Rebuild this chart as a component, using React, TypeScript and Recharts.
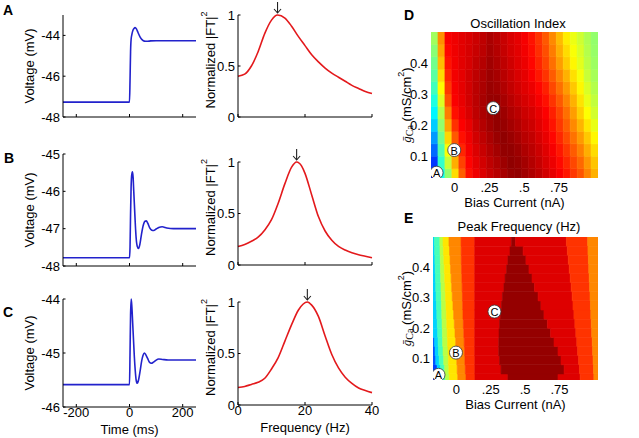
import React from "react";
import {
  LineChart,
  Line,
  XAxis,
  YAxis,
  ScatterChart,
  Scatter,
  ComposedChart,
  ReferenceArea,
  ReferenceDot,
} from "recharts";

const FONT = "'Liberation Sans', Arial, Helvetica, sans-serif";
const SERIF = "'Liberation Serif', 'DejaVu Serif', 'Times New Roman', serif";
const BLUE = "#2222cc";
const RED = "#e3191c";
const TICK_STYLE = { fontSize: 13, fill: "#000", fontFamily: FONT };

// ── step responses (ms, mV) ───────────────────────────────────────────────────
const timeA = [-250, 0, 2, 4, 6, 9, 13, 17, 21, 26, 32, 40, 48, 56, 65, 80, 100, 250];
const voltA = [-47.27, -47.27, -46.2, -44.8, -44.2, -43.95, -43.75, -43.66, -43.62, -43.68, -43.86, -44.08, -44.22, -44.28, -44.29, -44.27, -44.26, -44.26];

const timeB = [-250, 0, 2, 4, 6, 8.5, 11, 13.5, 16, 19, 22, 25, 29, 34, 39, 45, 52, 58, 63, 69, 76, 84, 91, 100, 110, 123, 140, 165, 250];
const voltB = [-47.78, -47.78, -47.5, -46.6, -45.9, -45.55, -45.48, -45.62, -46.0, -46.45, -46.9, -47.25, -47.47, -47.53, -47.42, -47.15, -46.9, -46.8, -46.79, -46.86, -46.98, -47.04, -47.05, -47.01, -46.97, -46.95, -46.98, -47.0, -47.0];

const timeC = [-250, 0, 2, 4, 6.5, 9, 12, 15, 18, 21.5, 25, 29, 34, 40, 46, 51, 56, 61, 68, 75, 82, 90, 98, 110, 125, 145, 250];
const voltC = [-45.585, -45.585, -45.0, -44.3, -44.0, -44.15, -44.45, -44.75, -45.05, -45.32, -45.5, -45.56, -45.5, -45.33, -45.14, -45.04, -45.0, -45.03, -45.1, -45.17, -45.19, -45.17, -45.14, -45.11, -45.12, -45.13, -45.13];

// ── normalized power spectra ──────────────────────────────────────────────────
const freqA = [0, 2, 4, 6, 8, 10, 11.8, 14, 16, 18, 20, 22, 24, 26, 28, 30, 32, 34, 36, 38, 40];
const powerA = [0.4, 0.42, 0.5, 0.64, 0.82, 0.95, 1.0, 0.97, 0.89, 0.79, 0.7, 0.61, 0.54, 0.48, 0.43, 0.39, 0.35, 0.31, 0.28, 0.25, 0.23];

const freqB = [0, 2, 4, 6, 8, 10, 12, 14, 16, 17.5, 19, 20, 22, 24, 26, 28, 30, 32, 34, 36, 38, 40];
const powerB = [0.18, 0.2, 0.23, 0.27, 0.34, 0.44, 0.6, 0.79, 0.95, 1.0, 0.96, 0.89, 0.68, 0.47, 0.33, 0.24, 0.18, 0.145, 0.12, 0.1, 0.085, 0.07];

const freqC = [0, 2, 4, 6, 8, 10, 12, 14, 16, 18, 20.7, 22, 24, 26, 28, 30, 32, 34, 36, 38, 40];
const powerC = [0.17, 0.18, 0.2, 0.22, 0.26, 0.35, 0.46, 0.62, 0.78, 0.92, 1.0, 0.97, 0.86, 0.67, 0.49, 0.36, 0.27, 0.21, 0.165, 0.14, 0.12];

const peakFreq = [11.8, 17.5, 20.7];

// ── parameter maps ────────────────────────────────────────────────────────────
const BIAS_MIN = -0.17;
const BIAS_MAX = 1.03;
const G_MIN = 0.03;
const G_MAX = 0.5;
const biasTicks = [0, 0.25, 0.5, 0.75];
const gTicks = [0.1, 0.2, 0.3, 0.4];

// oscillation index: column centres (nA) x row centres (mS/cm2)
const oscBias = [-0.145, -0.095, -0.045, 0.005, 0.055, 0.105, 0.155, 0.205, 0.255, 0.305, 0.355, 0.405, 0.455, 0.505, 0.555, 0.605, 0.655, 0.705, 0.755, 0.805, 0.855, 0.905, 0.955, 1.005];
const oscG = [0.04, 0.08, 0.12, 0.16, 0.2, 0.24, 0.28, 0.32, 0.36, 0.4, 0.44, 0.48];
const oscIndex = [
  [0.95, 1.75, 2.15, 2.58, 2.96, 3.2, 3.29, 3.35, 3.41, 3.46, 3.51, 3.56, 3.57, 3.53, 3.49, 3.44, 3.38, 3.32, 3.26, 3.18, 3.08, 2.99, 2.85, 2.71],
  [1.1, 1.85, 2.3, 2.72, 3.05, 3.24, 3.32, 3.38, 3.44, 3.49, 3.54, 3.58, 3.56, 3.52, 3.47, 3.42, 3.36, 3.3, 3.22, 3.13, 3.03, 2.93, 2.79, 2.65],
  [1.25, 1.95, 2.45, 2.85, 3.13, 3.27, 3.35, 3.41, 3.47, 3.52, 3.57, 3.57, 3.54, 3.49, 3.45, 3.4, 3.34, 3.27, 3.18, 3.08, 2.97, 2.86, 2.72, 2.58],
  [1.4, 2.05, 2.6, 2.98, 3.2, 3.29, 3.38, 3.44, 3.5, 3.55, 3.58, 3.55, 3.51, 3.46, 3.43, 3.37, 3.31, 3.23, 3.13, 3.02, 2.9, 2.78, 2.64, 2.5],
  [1.55, 2.15, 2.75, 3.1, 3.25, 3.31, 3.41, 3.47, 3.53, 3.57, 3.56, 3.52, 3.48, 3.43, 3.4, 3.34, 3.28, 3.19, 3.08, 2.96, 2.83, 2.7, 2.55, 2.41],
  [1.68, 2.25, 2.87, 3.2, 3.29, 3.36, 3.44, 3.5, 3.55, 3.58, 3.54, 3.49, 3.45, 3.4, 3.37, 3.31, 3.25, 3.15, 3.04, 2.91, 2.77, 2.62, 2.47, 2.34],
  [1.8, 2.37, 3.0, 3.26, 3.31, 3.38, 3.45, 3.51, 3.56, 3.56, 3.51, 3.46, 3.41, 3.37, 3.33, 3.27, 3.2, 3.09, 2.98, 2.85, 2.71, 2.56, 2.41, 2.29],
  [1.9, 2.48, 3.08, 3.27, 3.32, 3.38, 3.45, 3.5, 3.55, 3.53, 3.48, 3.43, 3.38, 3.34, 3.3, 3.23, 3.15, 3.03, 2.91, 2.78, 2.64, 2.5, 2.36, 2.25],
  [1.98, 2.58, 3.14, 3.28, 3.32, 3.38, 3.44, 3.49, 3.54, 3.51, 3.46, 3.41, 3.36, 3.32, 3.26, 3.18, 3.09, 2.97, 2.84, 2.71, 2.57, 2.45, 2.31, 2.21],
  [2.05, 2.67, 3.19, 3.28, 3.33, 3.37, 3.43, 3.47, 3.53, 3.49, 3.44, 3.39, 3.34, 3.3, 3.23, 3.14, 3.04, 2.91, 2.77, 2.63, 2.5, 2.39, 2.27, 2.18],
  [2.12, 2.75, 3.23, 3.29, 3.33, 3.37, 3.41, 3.45, 3.51, 3.47, 3.42, 3.37, 3.33, 3.28, 3.21, 3.11, 3.01, 2.87, 2.72, 2.58, 2.46, 2.36, 2.25, 2.16],
  [2.19, 2.81, 3.26, 3.29, 3.33, 3.36, 3.4, 3.44, 3.5, 3.46, 3.41, 3.36, 3.32, 3.27, 3.19, 3.09, 2.98, 2.83, 2.68, 2.53, 2.42, 2.33, 2.23, 2.15],
];
const oscRange = [0.55, 3.63];
const oscTicks = [1, 2, 3];

// peak frequency (Hz): contour bands per row, [start bias, value]
const peakG = [0.035, 0.065, 0.095, 0.125, 0.155, 0.185, 0.215, 0.245, 0.275, 0.305, 0.335, 0.365, 0.395, 0.425, 0.455, 0.485];
const peakBands = [
  [[-0.17, 12.9], [-0.15, 13.8], [-0.13, 15.0], [-0.11, 16.1], [-0.08, 17.2], [-0.05, 18.1], [0.01, 19.0], [0.07, 19.8], [0.135, 20.6], [0.375, 21.3], [0.739, 20.6], [0.9, 19.8], [1.0, 19.0]],
  [[-0.17, 13.6], [-0.14, 15.0], [-0.115, 16.1], [-0.085, 17.2], [-0.055, 18.1], [0.006, 19.0], [0.065, 19.8], [0.134, 20.6], [0.325, 21.3], [0.783, 20.6], [0.895, 19.8], [0.997, 19.0]],
  [[-0.17, 13.8], [-0.15, 15.0], [-0.125, 16.1], [-0.092, 17.2], [-0.058, 18.1], [0.003, 19.0], [0.062, 19.8], [0.134, 20.6], [0.314, 21.3], [0.761, 20.6], [0.889, 19.8], [0.994, 19.0]],
  [[-0.17, 13.8], [-0.155, 15.0], [-0.13, 16.1], [-0.097, 17.2], [-0.061, 18.1], [0.0, 19.0], [0.06, 19.8], [0.133, 20.6], [0.308, 21.3], [0.739, 20.6], [0.882, 19.8], [0.991, 19.0]],
  [[-0.17, 14.0], [-0.158, 15.0], [-0.133, 16.1], [-0.1, 17.2], [-0.064, 18.1], [-0.005, 19.0], [0.057, 19.8], [0.133, 20.6], [0.308, 21.3], [0.71, 20.6], [0.876, 19.8], [0.988, 19.0]],
  [[-0.17, 15.0], [-0.136, 16.1], [-0.102, 17.2], [-0.067, 18.1], [-0.01, 19.0], [0.054, 19.8], [0.133, 20.6], [0.31, 21.3], [0.685, 20.6], [0.869, 19.8], [0.984, 19.0]],
  [[-0.17, 15.0], [-0.139, 16.1], [-0.104, 17.2], [-0.07, 18.1], [-0.015, 19.0], [0.051, 19.8], [0.133, 20.6], [0.314, 21.3], [0.662, 20.6], [0.862, 19.8], [0.981, 19.0]],
  [[-0.17, 15.0], [-0.142, 16.1], [-0.106, 17.2], [-0.073, 18.1], [-0.02, 19.0], [0.048, 19.8], [0.133, 20.6], [0.321, 21.3], [0.637, 20.6], [0.855, 19.8], [0.978, 19.0]],
  [[-0.17, 15.0], [-0.145, 16.1], [-0.108, 17.2], [-0.076, 18.1], [-0.025, 19.0], [0.046, 19.8], [0.133, 20.6], [0.328, 21.3], [0.615, 20.6], [0.848, 19.8], [0.975, 19.0]],
  [[-0.17, 15.0], [-0.148, 16.1], [-0.11, 17.2], [-0.079, 18.1], [-0.03, 19.0], [0.044, 19.8], [0.133, 20.6], [0.335, 21.3], [0.594, 20.6], [0.842, 19.8], [0.972, 19.0]],
  [[-0.17, 15.0], [-0.15, 16.1], [-0.112, 17.2], [-0.082, 18.1], [-0.034, 19.0], [0.042, 19.8], [0.133, 20.6], [0.346, 21.3], [0.568, 20.6], [0.835, 19.8], [0.969, 19.0]],
  [[-0.17, 15.0], [-0.152, 16.1], [-0.114, 17.2], [-0.085, 18.1], [-0.038, 19.0], [0.04, 19.8], [0.133, 20.6], [0.354, 21.3], [0.55, 20.6], [0.828, 19.8], [0.966, 19.0]],
  [[-0.17, 15.0], [-0.154, 16.1], [-0.116, 17.2], [-0.088, 18.1], [-0.042, 19.0], [0.038, 19.8], [0.133, 20.6], [0.365, 21.3], [0.528, 20.6], [0.821, 19.8], [0.963, 19.0]],
  [[-0.17, 15.0], [-0.156, 16.1], [-0.117, 17.2], [-0.091, 18.1], [-0.046, 19.0], [0.036, 19.8], [0.133, 20.6], [0.375, 21.3], [0.506, 20.6], [0.814, 19.8], [0.96, 19.0]],
  [[-0.17, 15.0], [-0.158, 16.1], [-0.119, 17.2], [-0.094, 18.1], [-0.05, 19.0], [0.035, 19.8], [0.133, 20.6], [0.39, 21.3], [0.485, 20.6], [0.807, 19.8], [0.957, 19.0]],
  [[-0.17, 15.0], [-0.16, 16.1], [-0.12, 17.2], [-0.097, 18.1], [-0.054, 19.0], [0.034, 19.8], [0.133, 20.6], [0.4, 21.3], [0.43, 20.6], [0.8, 19.8], [0.955, 19.0]],
];
const peakRange = [11.8, 21.5];
const peakTicks = [12, 16, 20];

// example cells A, B, C
const markerBias = [-0.13, -0.003, 0.277];
const markerG = [0.047, 0.12, 0.255];
const markerLabel = ["A", "B", "C"];

// ── helpers ───────────────────────────────────────────────────────────────────
function jet(t: number) {
  const c = (v: number) => Math.round(255 * Math.max(0, Math.min(1, v)));
  const r = c(1.5 - Math.abs(4 * t - 3));
  const g = c(1.5 - Math.abs(4 * t - 2));
  const b = c(1.5 - Math.abs(4 * t - 1));
  return `rgb(${r},${g},${b})`;
}
const jetOf = (v: number, range: number[]) => jet((v - range[0]) / (range[1] - range[0]));
const JET_STOPS = [0, 0.125, 0.375, 0.625, 0.875, 1];

const fmtBias = (v: number) => (v === 0 ? "0" : String(v).replace("0.", "."));

const xTitle = (text: string, dy: number) => (props: any) => {
  const { x, y, width } = props.viewBox;
  return (
    <text x={x + width / 2} y={y + dy} textAnchor="middle" dominantBaseline="central" fontSize={13} fontFamily={FONT} fill="#000">
      {text}
    </text>
  );
};

const yTitle = (content: React.ReactNode, dx: number, dy = 0) => (props: any) => {
  const { x, y, height } = props.viewBox;
  const cx = x + dx;
  const cy = y + height / 2 + dy;
  return (
    <text x={cx} y={cy} transform={`rotate(-90 ${cx} ${cy})`} textAnchor="middle" dominantBaseline="central" fontSize={13} fontFamily={FONT} fill="#000">
      {content}
    </text>
  );
};

const TICK_GAP = 1;

function BottomTick(props: any) {
  const { x, y, payload, showLabel } = props;
  const axisY = y - TICK_GAP;
  return (
    <g>
      <line x1={x} x2={x} y1={axisY} y2={axisY - 3} stroke="#000" />
      {showLabel && (
        <text x={x} y={y} dy="0.72em" textAnchor="middle" fontSize={13} fontFamily={FONT} fill="#000">
          {payload.value}
        </text>
      )}
    </g>
  );
}

function LeftTick(props: any) {
  const { x, y, payload } = props;
  const axisX = x + 3;
  return (
    <g>
      <line x1={axisX} x2={axisX + 2.5} y1={y} y2={y} stroke="#000" />
      <text x={x} y={y} textAnchor="end" dominantBaseline="central" fontSize={13} fontFamily={FONT} fill="#000">
        {payload.value}
      </text>
    </g>
  );
}

function PeakArrow(props: any) {
  const { cx, cy } = props;
  return (
    <g stroke="#222" strokeWidth={1.1} fill="none">
      <line x1={cx} x2={cx} y1={cy - 13} y2={cy - 2} />
      <polyline points={`${cx - 3.5},${cy - 6} ${cx},${cy - 2} ${cx + 3.5},${cy - 6}`} />
    </g>
  );
}

function Marker(props: any) {
  const { cx, cy, payload } = props;
  return (
    <g>
      <circle cx={cx} cy={cy} r={6.5} fill="#fff" stroke="#333" strokeWidth={0.8} />
      <text x={cx} y={cy + 0.5} textAnchor="middle" dominantBaseline="central" fontSize={11} fontFamily={FONT} fill="#000">
        {payload.label}
      </text>
    </g>
  );
}

const ftTitle = (
  <>
    <tspan>Normalized |FT|</tspan>
    <tspan fontSize={9} dy={-6}>2</tspan>
  </>
);

const gcaTitle = (
  <>
    <tspan fontFamily={SERIF} fontStyle="italic">ḡ</tspan>
    <tspan fontFamily={SERIF} fontSize={10} dy={3}>Ca</tspan>
    <tspan dy={-3}> (mS/cm</tspan>
    <tspan fontSize={9} dy={-5}>2</tspan>
    <tspan dy={5}>)</tspan>
  </>
);

// ── panels ────────────────────────────────────────────────────────────────────
function VoltagePanel({ times, volts, top, height, marginTop, axisHeight, domain, ticks, showX }: any) {
  const data = times.map((t: number, i: number) => ({ t, v: volts[i] }));
  return (
    <div style={{ position: "absolute", left: 0, top }}>
      <LineChart width={200} height={height} data={data} margin={{ top: marginTop, right: 4, bottom: 0, left: 0 }}>
        <XAxis
          type="number"
          dataKey="t"
          domain={[-250, 250]}
          ticks={[-200, 0, 200]}
          interval={0}
          height={axisHeight}
          tickSize={0}
          tickMargin={TICK_GAP}
          tickLine={false}
          axisLine={{ stroke: "#000" }}
          tick={<BottomTick showLabel={showX} />}
          label={showX ? xTitle("Time (ms)", 22) : undefined}
        />
        <YAxis
          type="number"
          domain={domain}
          ticks={ticks}
          interval={0}
          width={63}
          tickSize={0}
          tickMargin={3}
          tickLine={false}
          axisLine={{ stroke: "#000" }}
          tick={<LeftTick />}
          label={yTitle("Voltage (mV)", 29)}
        />
        <Line type="monotone" dataKey="v" stroke={BLUE} strokeWidth={1.6} dot={false} isAnimationActive={false} />
      </LineChart>
    </div>
  );
}

function SpectrumPanel({ freqs, powers, peak, top, height, marginTop, axisHeight, showX }: any) {
  const data = freqs.map((f: number, i: number) => ({ f, p: powers[i] }));
  return (
    <div style={{ position: "absolute", left: 200, top }}>
      <LineChart width={188} height={height} data={data} margin={{ top: marginTop, right: 16, bottom: 0, left: 0 }}>
        <XAxis
          type="number"
          dataKey="f"
          domain={[0, 40]}
          ticks={[0, 20, 40]}
          interval={0}
          height={axisHeight}
          tickSize={0}
          tickMargin={TICK_GAP}
          tickLine={false}
          axisLine={{ stroke: "#000" }}
          tick={<BottomTick showLabel={showX} />}
          label={showX ? xTitle("Frequency (Hz)", 22) : undefined}
        />
        <YAxis
          type="number"
          domain={[0, 1]}
          ticks={[0, 0.5, 1]}
          interval={0}
          width={38}
          tickSize={0}
          tickMargin={3}
          tickLine={false}
          axisLine={{ stroke: "#000" }}
          tick={<LeftTick />}
          label={yTitle(ftTitle, 10, -6)}
        />
        <Line type="monotone" dataKey="p" stroke={RED} strokeWidth={1.6} dot={false} isAnimationActive={false} />
        <ReferenceDot x={peak} y={1} r={0} shape={<PeakArrow />} />
      </LineChart>
    </div>
  );
}

const markers = markerLabel.map((label, i) => ({ bias: markerBias[i], g: markerG[i], label }));

function MapFrame({ top, height, marginTop, axisWidth, axisHeight, cells }: any) {
  return (
    <div style={{ position: "absolute", left: 396, top }}>
      <ScatterChart width={204} height={height} margin={{ top: marginTop, right: 2, bottom: 0, left: 0 }}>
        <XAxis
          type="number"
          dataKey="bias"
          domain={[BIAS_MIN, BIAS_MAX]}
          ticks={biasTicks}
          interval={0}
          tickFormatter={fmtBias}
          height={axisHeight}
          tickSize={0}
          tickMargin={5}
          tickLine={false}
          axisLine={false}
          tick={TICK_STYLE}
          allowDataOverflow
          label={xTitle("Bias Current (nA)", 24)}
        />
        <YAxis
          type="number"
          dataKey="g"
          domain={[G_MIN, G_MAX]}
          ticks={gTicks}
          interval={0}
          width={axisWidth}
          tickSize={0}
          tickMargin={3}
          tickLine={false}
          axisLine={false}
          tick={TICK_STYLE}
          allowDataOverflow
          label={yTitle(gcaTitle, 10)}
        />
        {cells}
        <Scatter data={markers} shape={<Marker />} isAnimationActive={false} />
      </ScatterChart>
    </div>
  );
}

function OscillationMap() {
  const cells = oscIndex.flatMap((row, r) =>
    row.map((v, c) => {
      const col = jetOf(v, oscRange);
      return (
        <ReferenceArea
          key={`o${r}-${c}`}
          x1={oscBias[c] - 0.025}
          x2={oscBias[c] + 0.025}
          y1={oscG[r] - 0.02}
          y2={oscG[r] + 0.02}
          fill={col}
          fillOpacity={1}
          stroke={col}
          strokeWidth={0.6}
          ifOverflow="hidden"
        />
      );
    })
  );
  return <MapFrame top={0} height={212} marginTop={32} axisWidth={35} axisHeight={34} cells={cells} />;
}

function PeakMap() {
  const cells = peakBands.flatMap((row, r) =>
    row.map(([start, v], k) => {
      const end = k + 1 < row.length ? row[k + 1][0] : BIAS_MAX;
      const col = jetOf(v, peakRange);
      return (
        <ReferenceArea
          key={`p${r}-${k}`}
          x1={start}
          x2={end}
          y1={peakG[r] - 0.015}
          y2={peakG[r] + 0.015}
          fill={col}
          fillOpacity={1}
          stroke={col}
          strokeWidth={0.6}
          ifOverflow="hidden"
        />
      );
    })
  );
  return <MapFrame top={212} height={226} marginTop={25} axisWidth={37} axisHeight={58} cells={cells} />;
}

function ColorBar({ id, top, height, marginTop, marginBottom, range, ticks }: any) {
  return (
    <div style={{ position: "absolute", left: 603, top }}>
      <ComposedChart width={36} height={height} data={[]} margin={{ top: marginTop, right: 0, bottom: marginBottom, left: 0 }}>
        <defs>
          <linearGradient id={id} x1="0" y1="1" x2="0" y2="0">
            {JET_STOPS.map((t) => (
              <stop key={t} offset={t} stopColor={jet(t)} />
            ))}
          </linearGradient>
        </defs>
        <XAxis type="number" dataKey="x" domain={[0, 1]} hide />
        <YAxis
          type="number"
          orientation="right"
          domain={range}
          ticks={ticks}
          interval={0}
          width={21}
          tickSize={0}
          tickMargin={3}
          tickLine={false}
          axisLine={false}
          tick={TICK_STYLE}
        />
        <ReferenceArea x1={0} x2={1} y1={range[0]} y2={range[1]} fill={`url(#${id})`} fillOpacity={1} ifOverflow="visible" />
      </ComposedChart>
    </div>
  );
}

export default function App() {
  const letter = { fontSize: 14, fontWeight: 700, fontFamily: FONT, fill: "#000" };
  const title = { fontSize: 13, fontFamily: FONT, fill: "#000", textAnchor: "middle" as const, dominantBaseline: "central" as const };
  return (
    <div style={{ position: "absolute", left: 0, top: 0, width: 639, height: 438, background: "#fff", overflow: "hidden" }}>
      <VoltagePanel times={timeA} volts={voltA} top={0} height={140} marginTop={15} axisHeight={23} domain={[-48, -43]} ticks={[-48, -46, -44]} showX={false} />
      <VoltagePanel times={timeB} volts={voltB} top={140} height={140} marginTop={14} axisHeight={14} domain={[-48, -45]} ticks={[-48, -47, -46, -45]} showX={false} />
      <VoltagePanel times={timeC} volts={voltC} top={280} height={158} marginTop={19} axisHeight={31} domain={[-46, -44]} ticks={[-46, -45, -44]} showX />

      <SpectrumPanel freqs={freqA} powers={powerA} peak={peakFreq[0]} top={0} height={140} marginTop={15} axisHeight={23} showX={false} />
      <SpectrumPanel freqs={freqB} powers={powerB} peak={peakFreq[1]} top={140} height={140} marginTop={22} axisHeight={15} showX={false} />
      <SpectrumPanel freqs={freqC} powers={powerC} peak={peakFreq[2]} top={280} height={158} marginTop={22} axisHeight={33} showX />

      <OscillationMap />
      <ColorBar id="jetD" top={0} height={212} marginTop={32} marginBottom={34} range={oscRange} ticks={oscTicks} />
      <PeakMap />
      <ColorBar id="jetE" top={212} height={226} marginTop={25} marginBottom={58} range={peakRange} ticks={peakTicks} />

      <svg width={639} height={438} style={{ position: "absolute", left: 0, top: 0, pointerEvents: "none" }}>
        <text x={3} y={15} {...letter}>A</text>
        <text x={4} y={163} {...letter}>B</text>
        <text x={3} y={317} {...letter}>C</text>
        <text x={404} y={20} {...letter}>D</text>
        <text x={404} y={223} {...letter}>E</text>
        <text x={518} y={23} {...title}>Oscillation Index</text>
        <text x={519} y={226} {...title}>Peak Frequency (Hz)</text>
      </svg>
    </div>
  );
}
